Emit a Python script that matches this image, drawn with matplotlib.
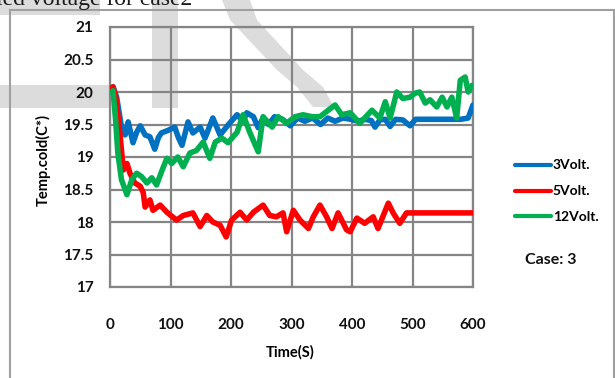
import matplotlib
matplotlib.use("Agg")
import matplotlib.pyplot as plt
from matplotlib.patches import Polygon
from matplotlib.lines import Line2D

# Cold-side temperature vs time for three supply voltages (case 3)
t_3v = [3, 5, 11, 19, 25, 30, 38, 44, 50, 58, 66, 74, 80, 85, 96, 107, 113, 119,
        129, 137, 149, 157, 170, 182, 195, 210, 220, 226, 237, 245, 253, 262, 272,
        285, 298, 310, 322, 335, 348, 360, 372, 385, 398, 410, 422, 432, 438, 446,
        455, 463, 472, 484, 496, 505, 520, 540, 560, 580, 592, 600]
temp_3v = [20.05, 20.08, 19.92, 19.46, 19.34, 19.54, 19.22, 19.38, 19.48, 19.34,
           19.31, 19.12, 19.30, 19.37, 19.41, 19.46, 19.30, 19.18, 19.54, 19.37,
           19.46, 19.29, 19.60, 19.34, 19.49, 19.65, 19.55, 19.68, 19.62, 19.45,
           19.60, 19.50, 19.62, 19.58, 19.48, 19.60, 19.55, 19.60, 19.50, 19.60,
           19.55, 19.60, 19.58, 19.55, 19.58, 19.56, 19.46, 19.57, 19.58, 19.47,
           19.58, 19.57, 19.48, 19.58, 19.58, 19.58, 19.58, 19.58, 19.60, 19.80]

t_5v = [3, 5, 10, 17, 22, 28, 33, 41, 50, 55, 58, 66, 71, 83, 94, 110, 121, 137,
        149, 160, 170, 182, 192, 201, 215, 226, 237, 253, 264, 275, 286, 292, 303,
        314, 328, 336, 347, 358, 367, 377, 391, 397, 408, 421, 435, 443, 460, 468,
        479, 490, 500, 550, 600]
temp_5v = [20.05, 20.08, 19.90, 19.30, 18.80, 18.90, 18.75, 18.60, 18.55, 18.45,
           18.23, 18.34, 18.18, 18.26, 18.15, 18.03, 18.10, 18.14, 17.93, 18.10,
           18.00, 17.95, 17.77, 18.03, 18.15, 18.03, 18.15, 18.26, 18.10, 18.08,
           18.14, 17.85, 18.18, 18.03, 17.90, 18.08, 18.26, 18.08, 17.90, 18.14,
           17.88, 17.85, 18.06, 17.98, 18.08, 17.90, 18.29, 18.14, 17.98, 18.14,
           18.14, 18.14, 18.14]

t_12v = [3, 5, 9, 13, 19, 28, 36, 44, 52, 61, 69, 77, 85, 94, 102, 112, 121, 132,
         143, 154, 165, 174, 185, 195, 210, 220, 231, 245, 253, 268, 278, 292, 306,
         319, 334, 347, 358, 372, 383, 397, 413, 433, 446, 455, 463, 474, 484, 496,
         504, 512, 521, 529, 540, 549, 557, 565, 573, 579, 587, 592, 598, 600]
temp_12v = [20.00, 20.02, 19.60, 19.06, 18.65, 18.42, 18.65, 18.75, 18.70, 18.60,
            18.68, 18.57, 18.77, 18.98, 18.90, 19.00, 18.85, 19.06, 19.10, 19.23,
            18.98, 19.23, 19.29, 19.22, 19.38, 19.65, 19.38, 19.08, 19.62, 19.46,
            19.62, 19.52, 19.62, 19.65, 19.62, 19.62, 19.70, 19.80, 19.65, 19.68,
            19.52, 19.72, 19.60, 19.85, 19.60, 20.00, 19.90, 19.92, 19.98, 20.00,
            19.83, 19.88, 19.77, 19.92, 19.77, 19.92, 19.60, 20.18, 20.23, 20.00,
            20.10, 20.10]

series_labels = ["3Volt.", "5Volt.", "12Volt."]
series_colors = ["#0070C0", "#FF0000", "#00B050"]
x_ticks = [0, 100, 200, 300, 400, 500, 600]
y_ticks = [17, 17.5, 18, 18.5, 19, 19.5, 20, 20.5, 21]
y_ticklabels = ["17", "17.5", "18", "18.5", "19", "19.5", "20", "20.5", "21"]

W, H = 615, 378
fig = plt.figure(figsize=(W / 100, H / 100), dpi=100)
fig.patch.set_facecolor("white")


def fx(x):
    return x / W


def fy(y):
    return 1 - y / H


SANS = ["Lato", "DejaVu Sans"]

# faint page watermark behind the chart
wm = "#dcdcdc"
wm_shapes = [
    [(0, 0), (100, 0), (100, 15), (0, 15)],
    [(0, 85), (110, 85), (110, 108), (0, 108)],
    [(152, 0), (178, 0), (178, 108), (152, 108)],
    [(222, 0), (250, 0), (257, 20), (303, 70), (323, 87), (334, 107),
     (313, 107), (297, 87), (277, 70), (230, 20)],
]
for pts in wm_shapes:
    fig.patches.append(Polygon([(fx(a), fy(b)) for a, b in pts], closed=True,
                               transform=fig.transFigure, facecolor=wm,
                               edgecolor="none", zorder=-2))

# caption line of the page above the figure box
fig.text(fx(-4), fy(5), "ied voltage for case2", family="Liberation Serif",
         fontsize=17, color="#1a1a1a", ha="left", va="baseline", zorder=-1)

# outer figure box
frame_col = "#a0a0a0"
for xs, ys in [([9.5, 9.5], [10, 390]), ([9.5, 614], [10, 10]), ([614, 614], [10, 390])]:
    fig.lines.append(Line2D([fx(v) for v in xs], [fy(v) for v in ys],
                            transform=fig.transFigure, color=frame_col, lw=1.5, zorder=-1))

left, right, top, bottom = 110, 473, 27, 287
ax = fig.add_axes([fx(left), fy(bottom), fx(right) - fx(left), fy(top) - fy(bottom)])
ax.set_facecolor("none")

grid_col = "#858585"
ax.set_xlim(0, 600)
ax.set_ylim(17, 21)
ax.set_xticks(x_ticks)
ax.set_yticks(y_ticks)
ax.set_yticklabels(y_ticklabels)
ax.grid(True, color=grid_col, lw=1.6, zorder=0)
for sp in ax.spines.values():
    sp.set_color(grid_col)
    sp.set_linewidth(1.6)
ax.tick_params(length=0, pad=0)
ax.tick_params(axis="x", pad=22)
ax.tick_params(axis="y", pad=12)
for lab in ax.get_xticklabels() + ax.get_yticklabels():
    lab.set_family(SANS)
    lab.set_fontweight("bold")
    lab.set_fontsize(11)
    lab.set_color("#111111")

data = [(t_3v, temp_3v), (t_5v, temp_5v), (t_12v, temp_12v)]
handles = []
for (tt, vv), lab, col in zip(data, series_labels, series_colors):
    h, = ax.plot(tt, vv, color=col, lw=4, label=lab, solid_capstyle="round",
                 solid_joinstyle="round", zorder=3)
    handles.append(h)

ax.set_xlabel("Time(S)", family=SANS, fontweight="bold", fontsize=10.5)
ax.set_ylabel("Temp.cold(C*)", family=SANS, fontweight="bold", fontsize=10.5)
ax.xaxis.set_label_coords(0.495, -0.225)
ax.yaxis.set_label_coords((51 - left) / (right - left), 0.49)

leg = ax.legend(handles=handles, loc="upper left",
                bbox_to_anchor=(fx(502), fy(147)), bbox_transform=fig.transFigure,
                frameon=False, handlelength=2.6, handletextpad=0.15, labelspacing=1.0,
                prop={"family": SANS, "weight": "bold", "size": 10})
for line in leg.get_lines():
    line.set_linewidth(3)
    line.set_solid_capstyle("round")

fig.text(fx(551), fy(260), "Case: 3", family=SANS, fontweight="bold", fontsize=11.5,
         ha="center", va="center", color="#111111")

fig.savefig("out.png", dpi=100)
